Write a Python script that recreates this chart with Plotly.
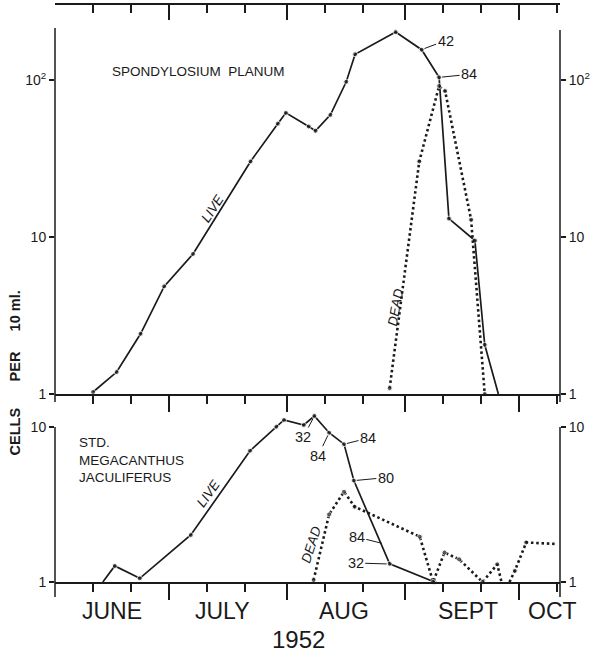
import plotly.graph_objects as go

# ---------------- data ----------------
# Upper panel: Spondylosium planum (cells per 10 ml)
TOP_LIVE_DATES = ["1952-06-11", "1952-06-17 05:00", "1952-06-23 12:00", "1952-06-29 17:00",
                  "1952-07-07 07:00", "1952-07-22 10:00", "1952-07-29 14:00", "1952-07-31 17:00",
                  "1952-08-06 17:00", "1952-08-08 12:00", "1952-08-12 10:00", "1952-08-16 14:00",
                  "1952-08-18 22:00", "1952-08-29 14:00", "1952-09-05 10:00", "1952-09-10",
                  "1952-09-12 14:00", "1952-09-19 10:00", "1952-09-22", "1952-09-25 14:00"]
TOP_LIVE_VALUES = [1.03, 1.38, 2.42, 4.85, 7.8, 30.3, 52.7, 61.8, 50.6, 47.5, 60, 97.5,
                   146, 202, 156, 104, 13.1, 9.5, 2.06, 1.0]
TOP_LIVE_MARK = [1] * 19 + [0]

TOP_DEAD_DATES = ["1952-08-28", "1952-09-04 19:00", "1952-09-10", "1952-09-11 14:00",
                  "1952-09-18 10:00", "1952-09-22"]
TOP_DEAD_VALUES = [1.09, 30.3, 91.6, 85, 12.9, 1.0]
TOP_DEAD_MARK = [1, 1, 1, 1, 1, 1]

# Lower panel: Std. Megacanthus jaculiferus
BOT_LIVE_DATES = ["1952-06-13 14:00", "1952-06-16 17:00", "1952-06-23 07:00", "1952-07-06 17:00",
                  "1952-07-22 07:00", "1952-07-29 05:00", "1952-07-31 05:00", "1952-08-05 10:00",
                  "1952-08-08 05:00", "1952-08-12 02:00", "1952-08-16", "1952-08-18 14:00",
                  "1952-08-28", "1952-09-08 19:00"]
BOT_LIVE_VALUES = [1.0, 1.27, 1.056, 2.01, 7.03, 10.05, 11.1, 10.3, 11.8, 9.18, 7.75, 4.51, 1.31, 1.0]
BOT_LIVE_MARK = [0] + [1] * 13

BOT_DEAD_DATES = ["1952-08-08", "1952-08-12 02:00", "1952-08-16", "1952-08-18 19:00",
                  "1952-09-04 22:00", "1952-09-08 10:00", "1952-09-11 10:00", "1952-09-15 07:00",
                  "1952-09-21 10:00", "1952-09-25 07:00", "1952-09-26 10:00", None,
                  "1952-09-28 12:00", "1952-09-29 22:00", "1952-10-02 22:00", "1952-10-10 12:00"]
BOT_DEAD_VALUES = [1.03, 2.73, 3.82, 3.06, 1.96, 1.0, 1.55, 1.40, 1.0, 1.30, 1.0, None,
                   1.0, 1.18, 1.80, 1.76]
BOT_DEAD_MARK = [1, 1, 1, 1, 1, 1, 1, 1, 1, 1, 0, 0, 0, 1, 1, 0]

# axis ticks / labels
X_RANGE = ["1952-06-01", "1952-10-11 19:00"]
MONTH_STARTS = ["1952-07-01", "1952-08-01", "1952-09-01", "1952-10-01"]
TEN_DAY_TICKS = ["1952-06-11", "1952-06-21", "1952-07-11", "1952-07-21", "1952-08-11",
                 "1952-08-21", "1952-09-11", "1952-09-21", "1952-10-11"]
MONTH_LABELS = ["JUNE", "JULY", "AUG", "SEPT", "OCT"]
MONTH_LABEL_POS = ["1952-06-16", "1952-07-15", "1952-08-16", "1952-09-17 14:00", "1952-10-09 17:00"]
TOP_YTICKS = [1, 10, 100]
TOP_YTEXT = ["1", "10", "10<sup>2</sup>"]
BOT_YTICKS = [1, 10]
BOT_YTEXT = ["1", "10"]

# ---------------- figure ----------------
INK = "#1a1a1a"
FONT = "Liberation Sans"
fig = go.Figure()


def series(x, y, marks, dotted, xa, ya):
    fig.add_trace(go.Scatter(
        x=x, y=y, mode="lines+markers", xaxis=xa, yaxis=ya,
        line=dict(color=INK, width=2.6 if dotted else 1.7,
                  dash="2.5px,2.8px" if dotted else "solid"),
        marker=dict(size=[5 if m else 0 for m in marks], color=INK),
        cliponaxis=False, showlegend=False, hoverinfo="skip", connectgaps=False))


series(TOP_LIVE_DATES, TOP_LIVE_VALUES, TOP_LIVE_MARK, False, "x", "y")
series(TOP_DEAD_DATES, TOP_DEAD_VALUES, TOP_DEAD_MARK, True, "x", "y")
series(BOT_LIVE_DATES, BOT_LIVE_VALUES, BOT_LIVE_MARK, False, "x2", "y2")
series(BOT_DEAD_DATES, BOT_DEAD_VALUES, BOT_DEAD_MARK, True, "x2", "y2")

# empty traces so overlay axes are drawn
for xa, ya in [("x3", "y"), ("x", "y3"), ("x2", "y4")]:
    fig.add_trace(go.Scatter(x=[None], y=[None], xaxis=xa, yaxis=ya, mode="markers",
                             showlegend=False, hoverinfo="skip"))

TOP_DOM = [0.3258, 1.0]
BOT_DOM = [0.0, 0.3154]
TOP_RANGE = [0, 2.478]
BOT_RANGE = [0, 1.174]


def xaxis_cfg(anchor, ticks, side="bottom", overlaying=None, major_len=16, minor_len=8):
    d = dict(type="date", range=X_RANGE, anchor=anchor, side=side, domain=[0, 1],
             showline=True, linecolor=INK, linewidth=1.5, mirror=False,
             showgrid=False, zeroline=False, showticklabels=False,
             tickmode="array", tickvals=MONTH_STARTS, ticks=ticks, ticklen=major_len,
             tickwidth=1.5, tickcolor=INK,
             minor=dict(tickmode="array", tickvals=TEN_DAY_TICKS, ticks=ticks,
                        ticklen=minor_len, tickwidth=1.5, tickcolor=INK, showgrid=False))
    if overlaying:
        d["overlaying"] = overlaying
    return d


def yaxis_cfg(dom, rng, tv, tt, anchor, side="left", overlaying=None):
    d = dict(type="log", range=rng, domain=dom, anchor=anchor, side=side,
             showline=False, showgrid=False, zeroline=False,
             tickmode="array", tickvals=tv, ticktext=tt, ticks="outside", ticklen=5,
             tickwidth=1.5, tickcolor=INK, tickfont=dict(family=FONT, size=14, color=INK))
    if overlaying:
        d["overlaying"] = overlaying
    return d


fig.update_layout(
    width=595, height=654,
    margin=dict(l=55, r=30, t=5, b=72),
    paper_bgcolor="white", plot_bgcolor="white",
    font=dict(family=FONT, color=INK),
    xaxis=xaxis_cfg("y", "outside"),
    xaxis3=xaxis_cfg("y", "inside", side="top", overlaying="x", major_len=15, minor_len=8),
    xaxis2=xaxis_cfg("y2", "outside"),
    yaxis=yaxis_cfg(TOP_DOM, TOP_RANGE, TOP_YTICKS, TOP_YTEXT, "x"),
    yaxis3=yaxis_cfg(TOP_DOM, TOP_RANGE, TOP_YTICKS, TOP_YTEXT, "x", side="right", overlaying="y"),
    yaxis2=yaxis_cfg(BOT_DOM, BOT_RANGE, BOT_YTICKS, BOT_YTEXT, "x2"),
    yaxis4=yaxis_cfg(BOT_DOM, BOT_RANGE, BOT_YTICKS, BOT_YTEXT, "x2", side="right", overlaying="y2"),
)

# vertical frame lines (y axes)
line = dict(color=INK, width=1.5)
shapes = [
    dict(type="line", xref="paper", yref="y domain", x0=0, x1=0, y0=-0.0206, y1=0.941, line=line),
    dict(type="line", xref="paper", yref="y domain", x0=1, x1=1, y0=-0.0206, y1=0.936, line=line),
    dict(type="line", xref="paper", yref="y2 domain", x0=0, x1=0, y0=-0.082, y1=0.852, line=line),
    dict(type="line", xref="paper", yref="y2 domain", x0=1, x1=1, y0=-0.082, y1=0.852, line=line),
]
fig.update_layout(shapes=shapes)

ann = []
# panel titles
ann.append(dict(text="SPONDYLOSIUM&nbsp;&nbsp;PLANUM", xref="paper", yref="paper", x=0.108, y=0.884,
                xanchor="left", yanchor="middle", showarrow=False, font=dict(size=13.5)))
ann.append(dict(text="STD.<br>MEGACANTHUS<br>JACULIFERUS", xref="paper", yref="paper", x=0.043,
                y=0.2114, xanchor="left", yanchor="middle", align="left", showarrow=False,
                font=dict(size=13.5)))
# LIVE / DEAD labels
for txt, xr, yr, x, ylog, ang in [
    ("LIVE", "x", "y", "1952-07-12 12:00", 1.18, -57),
    ("DEAD", "x", "y", "1952-08-29 14:00", 0.551, -80),
    ("LIVE", "x2", "y2", "1952-07-11 10:00", 0.568, -55),
    ("DEAD", "x2", "y2", "1952-08-07 12:00", 0.239, -72),
]:
    ann.append(dict(text="<i>%s</i>" % txt, xref=xr, yref=yr, x=x, y=ylog, textangle=ang,
                    showarrow=False, font=dict(size=13.5)))
# numbered leader labels
for txt, xr, yr, x, ylog, ax, ay in [
    ("42", "x", "y", "1952-09-05 10:00", 2.194, 24, -9),
    ("84", "x", "y", "1952-09-10", 2.017, 30, -3),
    ("32", "x2", "y2", "1952-08-08 05:00", 1.071, -11, 21),
    ("84", "x2", "y2", "1952-08-12 02:00", 0.963, -11, 23),
    ("84", "x2", "y2", "1952-08-16", 0.889, 24, -6),
    ("80", "x2", "y2", "1952-08-18 14:00", 0.654, 32, -3),
    ("84", "x2", "y2", "1952-08-26 17:00", 0.245, -28, -7),
    ("32", "x2", "y2", "1952-08-28", 0.116, -34, -1),
]:
    ann.append(dict(text=txt, xref=xr, yref=yr, x=x, y=ylog, ax=ax, ay=ay, showarrow=True,
                    arrowhead=0, arrowwidth=1, arrowcolor=INK, standoff=3,
                    font=dict(size=14.5)))
# y-axis title pieces
for txt, yp in [("CELLS", 0.2617), ("PER", 0.3744), ("10 ml.", 0.4697)]:
    ann.append(dict(text="<b>%s</b>" % txt, xref="paper", yref="paper", x=-0.0784, y=yp,
                    xanchor="center", yanchor="middle",
                    textangle=-90, showarrow=False, font=dict(size=14.5)))
# month labels
for lab, pos in zip(MONTH_LABELS, MONTH_LABEL_POS):
    ann.append(dict(text=lab, xref="x2", yref="paper", x=pos, y=-0.0503, yanchor="middle",
                    showarrow=False, font=dict(size=23)))
ann.append(dict(text="1952", xref="paper", yref="paper", x=0.482, y=-0.1005, xanchor="center",
                yanchor="middle", showarrow=False, font=dict(size=24)))
fig.update_layout(annotations=ann)

fig.write_html("out.html")
